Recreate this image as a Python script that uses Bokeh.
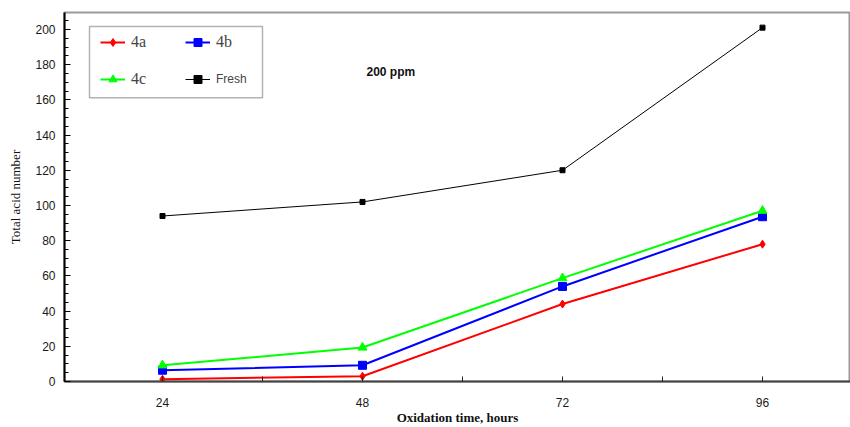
from bokeh.plotting import figure
from bokeh.models import (Range1d, FixedTicker, SingleIntervalTicker, Legend,
                          LegendItem, Label, BoxAnnotation)
from bokeh.embed import file_html
from bokeh.resources import INLINE

# ---- data ----
hours = [24, 48, 72, 96]
tan_4a = [1.3, 3.0, 44, 78]
tan_4b = [6.4, 9.2, 54, 93.6]
tan_4c = [9.2, 19.3, 58.7, 97]
tan_fresh = [94, 102, 120, 201]
x_tick_labels = {24: "24", 48: "48", 72: "72", 96: "96"}
annotation_text = "200 ppm"

p = figure(width=850, height=427, output_backend="svg", toolbar_location=None,
           x_range=Range1d(12.24, 106.56), y_range=Range1d(0, 209.6),
           min_border_left=64, min_border_right=0, min_border_top=12,
           min_border_bottom=43)
p.grid.visible = False
p.outline_line_color = "#9a9a9a"
p.outline_line_width = 2
p.background_fill_color = "white"
p.border_fill_color = "white"

# axes
xa = p.xaxis[0]
xa.ticker = FixedTicker(ticks=hours, minor_ticks=[36, 60, 84, 108])
xa.major_label_overrides = x_tick_labels
xa.axis_line_color = "#444444"
xa.axis_line_width = 2
xa.major_tick_in = 5
xa.major_tick_out = 0
xa.minor_tick_in = 5
xa.minor_tick_out = 0
xa.major_tick_line_color = "#222222"
xa.minor_tick_line_color = "#222222"
xa.major_label_standoff = 16
xa.major_label_text_font = "Liberation Sans"
xa.major_label_text_font_size = "12px"
xa.major_label_text_color = "#1a1a1a"
xa.axis_label = "Oxidation time, hours"
xa.axis_label_text_font = "Liberation Serif"
xa.axis_label_text_font_style = "bold"
xa.axis_label_text_font_size = "13px"
xa.axis_label_standoff = 0
xa.axis_label_text_color = "#111111"

ya = p.yaxis[0]
ya.ticker = SingleIntervalTicker(interval=20, num_minor_ticks=4)
ya.axis_line_color = "black"
ya.axis_line_width = 2
ya.major_tick_in = 6
ya.major_tick_out = 0
ya.minor_tick_in = 4
ya.minor_tick_out = 0
ya.major_tick_line_color = "black"
ya.minor_tick_line_color = "black"
ya.major_label_standoff = 9
ya.major_label_text_font = "Liberation Sans"
ya.major_label_text_font_size = "12px"
ya.major_label_text_color = "#1a1a1a"
ya.axis_label = "Total acid number"
ya.axis_label_text_font = "Liberation Serif"
ya.axis_label_text_font_style = "normal"
ya.axis_label_text_font_size = "13px"
ya.axis_label_standoff = 9
ya.axis_label_text_color = "#111111"

# series
l_a = p.line(hours, tan_4a, line_color="red", line_width=2)
m_a = p.scatter(hours, tan_4a, marker="diamond", size=8, color="red")
l_b = p.line(hours, tan_4b, line_color="blue", line_width=2)
m_b = p.scatter(hours, tan_4b, marker="square", size=8, color="blue")
l_c = p.line(hours, tan_4c, line_color="#00ff00", line_width=2)
m_c = p.scatter(hours, tan_4c, marker="triangle", size=9, color="#00ff00")
l_f = p.line(hours, tan_fresh, line_color="black", line_width=1)
m_f = p.scatter(hours, tan_fresh, marker="square", size=5, color="black")

# legend box
box = BoxAnnotation(left=15.24, right=36.0, top=201.7, bottom=161.2,
                    fill_alpha=0, line_color="black", line_width=1.5)
p.add_layout(box)

common = dict(border_line_color=None, background_fill_alpha=0, padding=0,
              margin=0, spacing=17, glyph_width=25, glyph_height=20,
              label_height=20, label_standoff=6)

leg1 = Legend(items=[LegendItem(label="4a", renderers=[l_a, m_a]),
                     LegendItem(label="4c", renderers=[l_c, m_c])],
              location=(36, 292), label_text_font="Liberation Serif",
              label_text_font_size="16px", **common)
leg2 = Legend(items=[LegendItem(label="4b", renderers=[l_b, m_b])],
              location=(121, 329), label_text_font="Liberation Serif",
              label_text_font_size="16px", **common)
leg3 = Legend(items=[LegendItem(label="Fresh", renderers=[l_f, m_f])],
              location=(121, 292), label_text_font="Liberation Sans",
              label_text_font_size="12px", **common)
for lg in (leg1, leg2, leg3):
    p.add_layout(lg)

p.add_layout(Label(x=51.4, y=176, text=annotation_text, text_align="center",
                   text_baseline="middle", text_font="Liberation Sans",
                   text_font_size="12px", text_font_style="bold",
                   text_color="#111111"))

open("out.html", "w").write(file_html(p, INLINE))
